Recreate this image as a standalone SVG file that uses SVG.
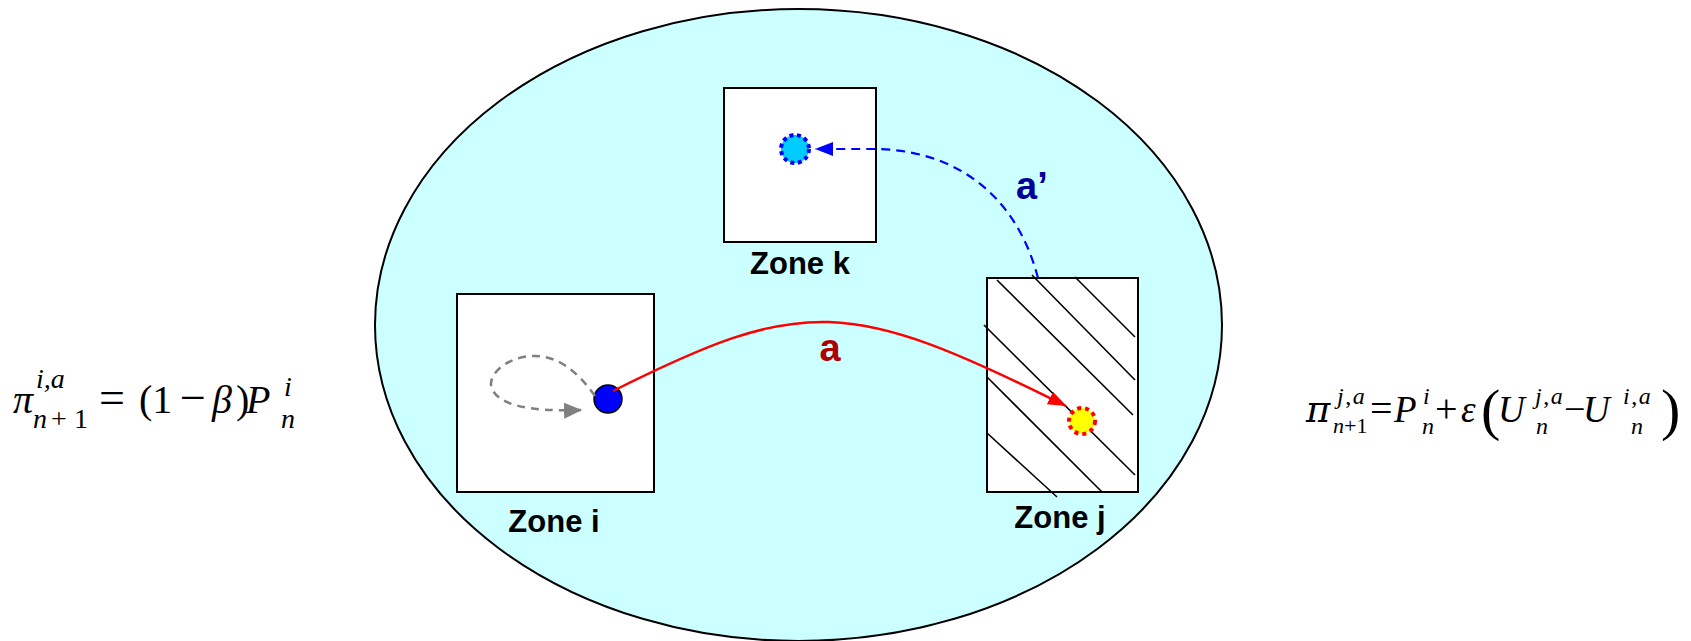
<svg xmlns="http://www.w3.org/2000/svg" width="1691" height="641" viewBox="0 0 1691 641">
<style>
.zone{fill:#fff;stroke:#000;stroke-width:2}
.lbl{font-family:"Liberation Sans",Arial,sans-serif;font-weight:bold;font-size:31px;fill:#000;text-anchor:middle}
.hatch{stroke:#000;stroke-width:1.6}
.m{font-family:"Liberation Serif","Times New Roman",serif;fill:#000}
.it{font-style:italic}
.pi{font-family:"DejaVu Serif",serif;font-style:italic}
</style>
<defs>
<marker id="arRed" markerUnits="userSpaceOnUse" markerWidth="20" markerHeight="16" refX="18" refY="7" orient="auto"><path d="M0,0 L18,7 L0,14 z" fill="#FF0000"/></marker>
<marker id="arBlue" markerUnits="userSpaceOnUse" markerWidth="20" markerHeight="16" refX="18" refY="7" orient="auto"><path d="M0,0 L18,7 L0,14 z" fill="#0000FF"/></marker>
<marker id="arGrey" markerUnits="userSpaceOnUse" markerWidth="20" markerHeight="18" refX="18" refY="8" orient="auto"><path d="M0,0 L18,8 L0,16 z" fill="#808080"/></marker>
</defs>
<rect width="1691" height="641" fill="#fff"/>
<g id="region">
<ellipse cx="798.5" cy="325" rx="423.5" ry="316" fill="#CCFFFF" stroke="#000" stroke-width="2"/>
</g>
<g id="zone-i">
<rect class="zone" x="457" y="294" width="197" height="198"/>
<circle cx="608" cy="399" r="14" fill="#0000FF" stroke="#000" stroke-width="1.5"/>
<text class="lbl" x="554" y="532">Zone i</text>
</g>
<g id="zone-k">
<rect class="zone" x="724" y="88" width="152" height="154"/>
<circle cx="795" cy="149" r="14" fill="#00CCFF" stroke="#0000FF" stroke-width="4" stroke-dasharray="4 3.5"/>
<text class="lbl" x="800" y="274">Zone k</text>
</g>
<g id="zone-j">
<rect class="zone" x="987" y="278" width="151" height="214"/>
<g class="hatch">
<line x1="1075" y1="277" x2="1135" y2="337"/>
<line x1="1032" y1="275" x2="1135" y2="380"/>
<line x1="997" y1="280" x2="1133" y2="415"/>
<line x1="984" y1="325" x2="1135" y2="475"/>
<line x1="987" y1="377" x2="1102" y2="492"/>
<line x1="987" y1="433" x2="1057" y2="497"/>
</g>
<circle cx="1082" cy="421" r="13" fill="#FFFF00" stroke="#FF0000" stroke-width="4" stroke-dasharray="4 4"/>
<text class="lbl" x="1060" y="528">Zone j</text>
</g>
<g id="connectors">
<path d="M595,396 C575,368 555,355 532,356 C508,357 486,374 492,389 C499,404 525,412 582,410" fill="none" stroke="#808080" stroke-width="2.5" stroke-dasharray="8 6" marker-end="url(#arGrey)"/>
<path d="M613,391 C803,296 848,297 1066,406" fill="none" stroke="#FF0000" stroke-width="2.5" marker-end="url(#arRed)"/>
<path d="M1038,278 C1015,190 950,149 873,149 L815,149" fill="none" stroke="#0000FF" stroke-width="2.2" stroke-dasharray="9 6" marker-end="url(#arBlue)"/>
<text x="830" y="361" font-family="Liberation Sans,Arial,sans-serif" font-weight="bold" font-size="38" fill="#B00000" text-anchor="middle">a</text>
<text x="1016" y="199" font-family="Liberation Sans,Arial,sans-serif" font-weight="bold" font-size="38" fill="#000099">a’</text>
</g>
<g id="formula-left" class="m">
<text class="it" x="13" y="413" font-size="40">π</text>
<text class="it" x="36" y="388" font-size="28">i,a</text>
<text x="33" y="428" font-size="28"><tspan class="it">n</tspan><tspan x="51">+</tspan><tspan x="74">1</tspan></text>
<text x="99" y="413" font-size="46">=</text>
<text x="139" y="413" font-size="40">(1</text>
<text x="180" y="413" font-size="46">−</text>
<text class="it" x="212" y="413" font-size="40">β</text>
<text x="236" y="413" font-size="40">)</text>
<text class="it" x="246" y="413" font-size="40">P</text>
<text class="it" x="284" y="396" font-size="28">i</text>
<text class="it" x="281" y="428" font-size="28">n</text>
</g>
<g id="formula-right" class="m">
<text class="pi" x="1306" y="422" font-size="37">π</text>
<text class="it" x="1337" y="404" font-size="24" letter-spacing="1.5">j<tspan font-style="normal">,</tspan>a</text>
<text x="1333" y="433" font-size="22"><tspan class="it">n</tspan>+1</text>
<text x="1370" y="422" font-size="40">=</text>
<text class="it" x="1394" y="422" font-size="37">P</text>
<text class="it" x="1423" y="404" font-size="24">i</text>
<text class="it" x="1422" y="434" font-size="24">n</text>
<text x="1435" y="422" font-size="40">+</text>
<text class="it" x="1461" y="422" font-size="37">ε</text>
<text x="1481" y="429" font-size="58">(</text>
<text class="it" x="1498" y="422" font-size="37">U</text>
<text class="it" x="1535" y="404" font-size="24" letter-spacing="1.5">j<tspan font-style="normal">,</tspan>a</text>
<text class="it" x="1536" y="434" font-size="24">n</text>
<text x="1564" y="422" font-size="38">−</text>
<text class="it" x="1583" y="422" font-size="37">U</text>
<text class="it" x="1623" y="404" font-size="24" letter-spacing="1.5">i<tspan font-style="normal">,</tspan>a</text>
<text class="it" x="1631" y="434" font-size="24">n</text>
<text x="1661" y="429" font-size="58">)</text>
</g>
</svg>
